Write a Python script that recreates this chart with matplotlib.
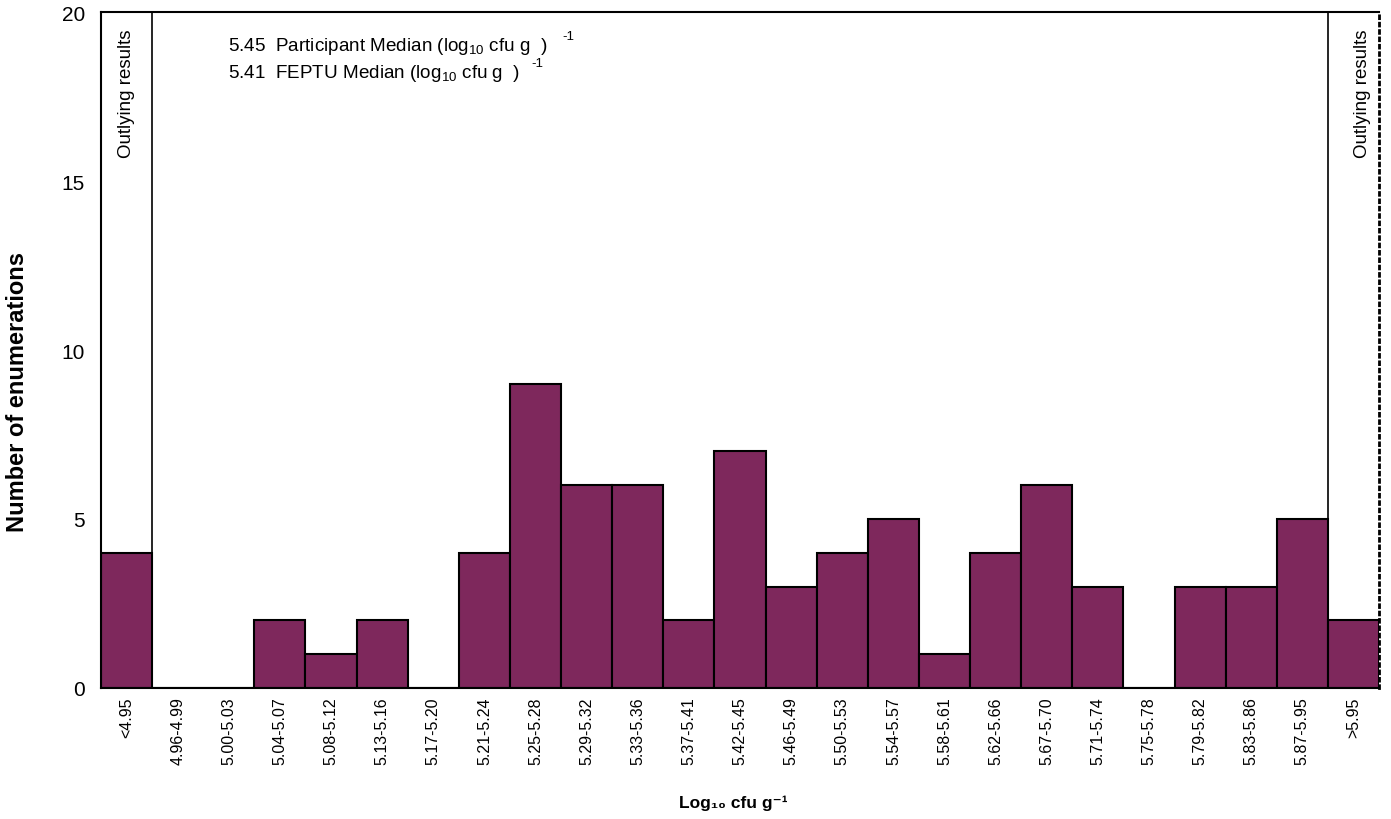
import numpy as np
import matplotlib
matplotlib.use("Agg")
import matplotlib.pyplot as plt

plt.rcParams['font.family'] = ['Liberation Sans', 'DejaVu Sans']
plt.rcParams['mathtext.default'] = 'regular'

bins = ["<4.95", "4.96-4.99", "5.00-5.03", "5.04-5.07", "5.08-5.12", "5.13-5.16",
        "5.17-5.20", "5.21-5.24", "5.25-5.28", "5.29-5.32", "5.33-5.36", "5.37-5.41",
        "5.42-5.45", "5.46-5.49", "5.50-5.53", "5.54-5.57", "5.58-5.61", "5.62-5.66",
        "5.67-5.70", "5.71-5.74", "5.75-5.78", "5.79-5.82", "5.83-5.86", "5.87-5.95",
        ">5.95"]
counts = [4, 0, 0, 2, 1, 2, 0, 4, 9, 6, 6, 2, 7, 3, 4, 5, 1, 4, 6, 3, 0, 3, 3, 5, 2]
participant_median = 5.45
feptu_median = 5.41

fig = plt.figure(figsize=(13.91, 8.20), dpi=100)
ax = fig.add_axes([0.0726, 0.1598, 0.9188, 0.8243])

x = np.arange(len(bins))
ax.bar(x, counts, width=1.0, color="#7E285C", edgecolor="black", linewidth=1.5, zorder=2)

# outlier boundaries
ax.axvline(0.5, color="black", linewidth=1.2, zorder=3)
ax.axvline(len(bins) - 1.5, color="black", linewidth=1.2, zorder=3)

ax.set_xlim(-0.5, len(bins) - 0.5)
ax.set_ylim(0, 20)
ax.set_yticks([0, 5, 10, 15, 20])
ax.set_xticks(x)
ax.set_xticklabels(bins, rotation=90, fontsize=11.5)
ax.tick_params(axis='y', length=0, pad=11.5, labelsize=15)
ax.tick_params(axis='x', length=0, pad=6)

for side in ['left', 'top', 'bottom']:
    ax.spines[side].set_linewidth(1.5)
ax.spines['right'].set_linestyle(':')
ax.spines['right'].set_linewidth(2)

fig.text(18 / 1391, 1 - 392 / 820, "Number of enumerations", rotation=90,
         fontsize=17, fontweight='bold', ha='center', va='center')
fig.text(733 / 1391, 1 - 803 / 820, "Log₁₀ cfu g⁻¹", fontsize=12.5,
         fontweight='bold', ha='center', va='center')

ax.text(0, 19.5, "Outlying results", rotation=90, fontsize=13.5,
        ha='center', va='top')
ax.text(24.17, 19.5, "Outlying results", rotation=90, fontsize=13.5,
        ha='center', va='top')

ax.text(1.98, 19.02, f"{participant_median:.2f}  Participant Median (log$_{{10}}$ cfu g  )",
        fontsize=13.6, va='center')
ax.text(8.52, 19.28, "-1", fontsize=9.5, va='center')
ax.text(1.98, 18.22, f"{feptu_median:.2f}  FEPTU Median (log$_{{10}}$ cfu g  )",
        fontsize=13.6, va='center')
ax.text(7.92, 18.48, "-1", fontsize=9.5, va='center')

fig.savefig("out.png", dpi=100)
